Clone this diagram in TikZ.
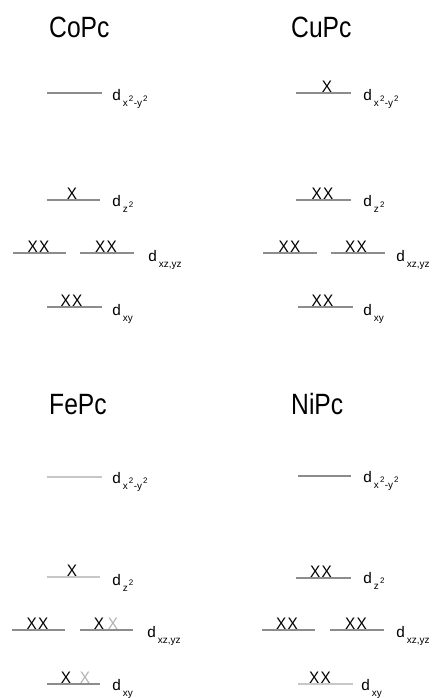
\documentclass[tikz,border=0pt]{standalone}
\usepackage{fontspec}
\setmainfont{Liberation Sans}
\newcommand\subf{\fontsize{7.5}{8}\selectfont}
\newcommand\supf{\fontsize{6}{6}\selectfont}
\newcommand\dlab[1]{d\kern1.6pt\raisebox{-4.5pt}{\subf #1}}
\newcommand\sqr[1]{#1\kern0.8pt\raisebox{4pt}{\supf 2}}
\newcommand\dxx{\dlab{\sqr{x}\kern0.3pt-\sqr{y}}}
\newcommand\dzz{\dlab{\sqr{z}}}
\newcommand\dxz{\dlab{xz,yz}}
\newcommand\dxyl{\dlab{xy}}
\newcommand\xx{X\kern1pt X}
\tikzset{
  title/.style={anchor=base west,inner sep=0pt,font=\fontsize{22}{22}\selectfont,xscale=0.84},
  el/.style={anchor=base,inner sep=0pt,font=\fontsize{12.5}{13}\selectfont,xscale=0.92},
  elfaint/.style={el,text=black!30},
  lab/.style={anchor=base west,inner sep=0pt,font=\fontsize{11.5}{12}\selectfont},
  lvl/.style={draw=black!45,line width=0.8pt},
  lvlfaint/.style={draw=black!22,line width=0.8pt}
}
\begin{document}
\begin{tikzpicture}[x=0.75pt,y=-0.75pt]
\useasboundingbox (0,0) rectangle (433,698);
% ---------- CoPc ----------
\node[title] (tco) at (49,38) {CoPc};
\coordinate (co1a) at (47,93);  \coordinate (co1b) at (102,93);
\coordinate (co2a) at (47,200); \coordinate (co2b) at (100,200);
\coordinate (co3a) at (13,253); \coordinate (co3b) at (66,253);
\coordinate (co4a) at (80,253); \coordinate (co4b) at (134,253);
\coordinate (co5a) at (47,307); \coordinate (co5b) at (102,307);
\draw[lvl] (co1a) -- (co1b);
\draw[lvl] (co2a) -- (co2b);
\draw[lvl] (co3a) -- (co3b);
\draw[lvl] (co4a) -- (co4b);
\draw[lvl] (co5a) -- (co5b);
\node[el] (coe2) at (72,199.5) {X};
\node[el] (coe3) at (38.5,252.5) {\xx};
\node[el] (coe4) at (106,252.5) {\xx};
\node[el] (coe5) at (71.5,306.5) {\xx};
\node[lab] (col1) at (112,101) {\dxx};
\node[lab] (col2) at (112,207) {\dzz};
\node[lab] (col3) at (148,262) {\dxz};
\node[lab] (col4) at (112,315) {\dxyl};
% ---------- CuPc ----------
\node[title] (tcu) at (291,38) {CuPc};
\coordinate (cu1a) at (296,93);  \coordinate (cu1b) at (351,93);
\coordinate (cu2a) at (296,200); \coordinate (cu2b) at (351,200);
\coordinate (cu3a) at (263,253); \coordinate (cu3b) at (317,253);
\coordinate (cu4a) at (331,253); \coordinate (cu4b) at (385,253);
\coordinate (cu5a) at (298,307); \coordinate (cu5b) at (353,307);
\draw[lvl] (cu1a) -- (cu1b);
\draw[lvl] (cu2a) -- (cu2b);
\draw[lvl] (cu3a) -- (cu3b);
\draw[lvl] (cu4a) -- (cu4b);
\draw[lvl] (cu5a) -- (cu5b);
\node[el] (cue1) at (327,92.5) {X};
\node[el] (cue2) at (322.5,199.5) {\xx};
\node[el] (cue3) at (289.5,252.5) {\xx};
\node[el] (cue4) at (356,252.5) {\xx};
\node[el] (cue5) at (322.5,306.5) {\xx};
\node[lab] (cul1) at (363,101) {\dxx};
\node[lab] (cul2) at (363,207) {\dzz};
\node[lab] (cul3) at (396,262) {\dxz};
\node[lab] (cul4) at (363,315) {\dxyl};
% ---------- FePc ----------
\node[title] (tfe) at (49,414) {FePc};
\coordinate (fe1a) at (47,477);  \coordinate (fe1b) at (102,477);
\coordinate (fe2a) at (47,577);  \coordinate (fe2b) at (100,577);
\coordinate (fe3a) at (12,630);  \coordinate (fe3b) at (65,630);
\coordinate (fe4a) at (80,630);  \coordinate (fe4b) at (133,630);
\coordinate (fe5a) at (47,684);  \coordinate (fe5b) at (100,684);
\draw[lvlfaint] (fe1a) -- (fe1b);
\draw[lvlfaint] (fe2a) -- (fe2b);
\draw[lvl] (fe3a) -- (fe3b);
\draw[lvl] (fe4a) -- (fe4b);
\draw[lvl] (fe5a) -- (fe5b);
\node[el] (fee2) at (72,576.5) {X};
\node[el] (fee3) at (37.5,629.5) {\xx};
\node[el] (fee4) at (99,629.5) {X};
\node[elfaint] (fee4b) at (113,629.5) {X};
\node[el] (fee5) at (66,683.5) {X};
\node[elfaint] (fee5b) at (85,683.5) {X};
\node[lab] (fel1) at (112,483) {\dxx};
\node[lab] (fel2) at (112,585) {\dzz};
\node[lab] (fel3) at (147,637) {\dxz};
\node[lab] (fel4) at (112,690) {\dxyl};
% ---------- NiPc ----------
\node[title] (tni) at (291,414) {NiPc};
\coordinate (ni1a) at (298,476);  \coordinate (ni1b) at (351,476);
\coordinate (ni2a) at (296,578);  \coordinate (ni2b) at (351,578);
\coordinate (ni3a) at (262,630);  \coordinate (ni3b) at (315,630);
\coordinate (ni4a) at (330,630);  \coordinate (ni4b) at (384,630);
\coordinate (ni5a) at (298,684);  \coordinate (ni5b) at (353,684);
\draw[lvl] (ni1a) -- (ni1b);
\draw[lvl] (ni2a) -- (ni2b);
\draw[lvl] (ni3a) -- (ni3b);
\draw[lvl] (ni4a) -- (ni4b);
\draw[lvlfaint] (ni5a) -- (ni5b);
\node[el] (nie2) at (321,577.5) {\xx};
\node[el] (nie3) at (287,629.5) {\xx};
\node[el] (nie4) at (356,629.5) {\xx};
\node[el] (nie5) at (320,683.5) {\xx};
\node[lab] (nil1) at (363,482) {\dxx};
\node[lab] (nil2) at (363,583) {\dzz};
\node[lab] (nil3) at (396,637) {\dxz};
\node[lab] (nil4) at (361,690) {\dxyl};
\end{tikzpicture}
\end{document}
